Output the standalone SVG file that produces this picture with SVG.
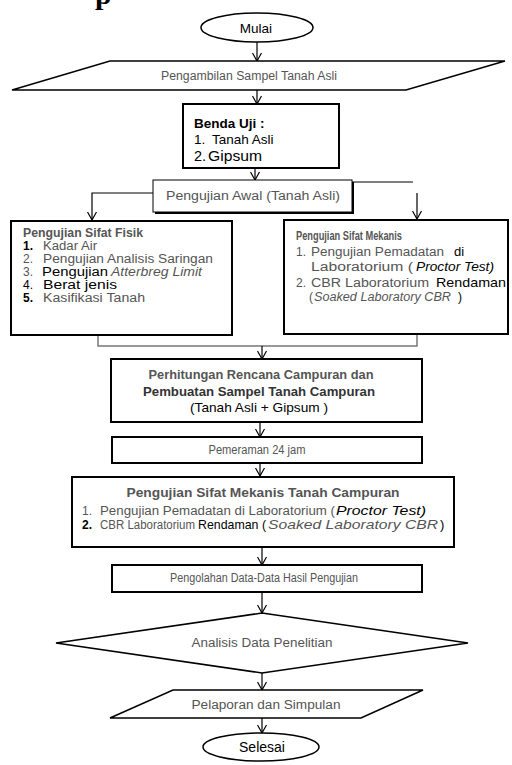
<svg xmlns="http://www.w3.org/2000/svg" width="512" height="765" viewBox="0 0 512 765">
<style>
text{font-family:"Liberation Sans",Arial,sans-serif;font-size:12px;fill:#000}
.g{fill:#555}
.b{font-weight:bold}
.i{font-style:italic}
.m{text-anchor:middle}
.box{fill:#fff;stroke:#000;stroke-width:2}
.thin{fill:#fff;stroke:#000;stroke-width:1.5}
.con{fill:none;stroke:#000;stroke-width:1.2}
.gcon{fill:none;stroke:#777;stroke-width:1.5}
</style>
<defs>
<marker id="ah" viewBox="-1 -5 11 10" refX="9" refY="0" markerWidth="11" markerHeight="10" markerUnits="userSpaceOnUse" orient="auto">
<path d="M1,-4.5 L9,0 L1,4.5" fill="none" stroke="#000" stroke-width="1.2"/>
</marker>
</defs>
<rect width="512" height="765" fill="#fff"/>
<text x="95" y="4" style="font-family:'Liberation Serif',serif;font-size:30px;font-weight:bold">p</text>

<g id="connectors">
<path class="con" d="M257,42 V61" marker-end="url(#ah)"/>
<path class="con" d="M257,90 V104" marker-end="url(#ah)"/>
<path class="con" d="M255,168 V180" marker-end="url(#ah)"/>
<path class="con" d="M153,193 H92 V220" marker-end="url(#ah)"/>
<path class="con" d="M352,182 H413" stroke-width="2"/>
<path class="con" d="M417,193 V219" marker-end="url(#ah)"/>
<path class="gcon" d="M98,335 V346 H417 V335"/>
<path class="con" d="M262,346 V359" marker-end="url(#ah)"/>
<path class="con" d="M260,422 V437" marker-end="url(#ah)"/>
<path class="con" d="M260,463 V476" marker-end="url(#ah)"/>
<path class="con" d="M262,547 V565" marker-end="url(#ah)"/>
<path class="con" d="M262,592 V613" marker-end="url(#ah)"/>
<path class="con" d="M262,673 V690" marker-end="url(#ah)"/>
<path class="con" d="M262,718 V733" marker-end="url(#ah)"/>
</g>

<g id="mulai">
<ellipse cx="257" cy="27.5" rx="56" ry="14.5" class="thin"/>
<text x="256" y="32.5" class="m" style="font-size:13.5px">Mulai</text>
</g>

<g id="pengambilan">
<polygon points="110,61 505,61 406,90 12,90" class="thin"/>
<text x="249" y="79.5" class="m g" textLength="176" lengthAdjust="spacingAndGlyphs">Pengambilan Sampel Tanah Asli</text>
</g>

<g id="benda-uji">
<rect x="183" y="104" width="156" height="64" class="box"/>
<text x="194" y="128" class="b" style="font-size:13.5px">Benda Uji :</text>
<text x="194" y="144" style="font-size:13.5px">1.</text>
<text x="212" y="144" style="font-size:13.5px">Tanah Asli</text>
<text x="194" y="161" style="font-size:14.5px">2.</text>
<text x="208" y="161" style="font-size:14.5px" textLength="54" lengthAdjust="spacingAndGlyphs">Gipsum</text>
</g>

<g id="pengujian-awal">
<rect x="155" y="182" width="199" height="32" fill="#000"/>
<rect x="153" y="180" width="199" height="32" fill="#fff" stroke="#000" stroke-width="1"/>
<text x="253" y="200" class="m g" textLength="174" lengthAdjust="spacingAndGlyphs">Pengujian Awal (Tanah Asli)</text>
</g>

<g id="sifat-fisik">
<rect x="11" y="221" width="221" height="114" class="box"/>
<text x="23" y="237" class="b g" textLength="120" lengthAdjust="spacingAndGlyphs">Pengujian Sifat Fisik</text>
<text x="23" y="250" class="b">1.</text>
<text x="43" y="250" class="g" textLength="54" lengthAdjust="spacingAndGlyphs">Kadar Air</text>
<text x="23" y="263" class="g">2.</text>
<text x="43" y="263" class="g" textLength="170" lengthAdjust="spacingAndGlyphs">Pengujian Analisis Saringan</text>
<text x="23" y="276" class="g">3.</text>
<text x="42" y="276" textLength="66" lengthAdjust="spacingAndGlyphs">Pengujian</text>
<text x="111" y="276" class="g i" textLength="91" lengthAdjust="spacingAndGlyphs">Atterbreg Limit</text>
<text x="23" y="289">4.</text>
<text x="43" y="289" style="font-size:12.5px" textLength="74" lengthAdjust="spacingAndGlyphs">Berat jenis</text>
<text x="23" y="302" class="b">5.</text>
<text x="43" y="302" class="g" textLength="102" lengthAdjust="spacingAndGlyphs">Kasifikasi Tanah</text>
</g>

<g id="sifat-mekanis">
<rect x="284" y="220" width="224" height="114" class="box"/>
<text x="296" y="240" class="b g" textLength="106" lengthAdjust="spacingAndGlyphs">Pengujian Sifat Mekanis</text>
<text x="296" y="256" class="g">1.</text>
<text x="311" y="256" class="g" textLength="133" lengthAdjust="spacingAndGlyphs">Pengujian Pemadatan</text>
<text x="454" y="256" style="font-size:13px">di</text>
<text x="311" y="271" class="g" textLength="102" lengthAdjust="spacingAndGlyphs">Laboratorium (</text>
<text x="416" y="271" class="i" style="font-size:13px" textLength="78" lengthAdjust="spacingAndGlyphs">Proctor Test)</text>
<text x="296" y="287" class="g">2.</text>
<text x="311" y="287" class="g" textLength="118" lengthAdjust="spacingAndGlyphs">CBR Laboratorium</text>
<text x="436" y="287" style="font-size:13.5px" textLength="70" lengthAdjust="spacingAndGlyphs">Rendaman</text>
<text x="309" y="301" class="g">(</text>
<text x="314" y="301" class="g i" textLength="137" lengthAdjust="spacingAndGlyphs">Soaked Laboratory CBR</text>
<text x="458" y="301">)</text>
</g>

<g id="perhitungan">
<rect x="111" y="359" width="311" height="63" class="box"/>
<text x="261" y="379" class="m b g" textLength="225" lengthAdjust="spacingAndGlyphs">Perhitungan Rencana Campuran dan</text>
<text x="259" y="396" class="m b" style="fill:#333" textLength="232" lengthAdjust="spacingAndGlyphs">Pembuatan Sampel Tanah Campuran</text>
<text x="259" y="412" class="m" style="font-size:13px" textLength="138" lengthAdjust="spacingAndGlyphs">(Tanah Asli + Gipsum )</text>
</g>

<g id="pemeraman">
<rect x="112" y="437" width="310" height="26" class="box"/>
<text x="257" y="454" class="m g" textLength="97" lengthAdjust="spacingAndGlyphs">Pemeraman 24 jam</text>
</g>

<g id="tanah-campuran">
<rect x="72" y="477" width="382" height="70" class="box"/>
<text x="263" y="497" class="m b g" textLength="273" lengthAdjust="spacingAndGlyphs">Pengujian Sifat Mekanis Tanah Campuran</text>
<text x="82" y="515" class="g">1.</text>
<text x="100" y="515" class="g" textLength="235" lengthAdjust="spacingAndGlyphs">Pengujian Pemadatan di Laboratorium (</text>
<text x="336" y="515" class="i" style="font-size:13px" textLength="90" lengthAdjust="spacingAndGlyphs">Proctor Test)</text>
<text x="82" y="529" class="b">2.</text>
<text x="100" y="529" class="g" textLength="95" lengthAdjust="spacingAndGlyphs">CBR Laboratorium</text>
<text x="198" y="529" style="font-size:13.5px" textLength="68" lengthAdjust="spacingAndGlyphs">Rendaman (</text>
<text x="268" y="529" class="g i" textLength="170" lengthAdjust="spacingAndGlyphs">Soaked Laboratory CBR</text>
<text x="440" y="529" style="font-size:13px">)</text>
</g>

<g id="pengolahan">
<rect x="112" y="565" width="310" height="27" class="box"/>
<text x="264" y="582" class="m g" textLength="188" lengthAdjust="spacingAndGlyphs">Pengolahan Data-Data Hasil Pengujian</text>
</g>

<g id="analisis">
<polygon points="262,613 468,643 262,673 56,643" class="thin"/>
<text x="262" y="647" class="m g" textLength="141" lengthAdjust="spacingAndGlyphs">Analisis Data Penelitian</text>
</g>

<g id="pelaporan">
<polygon points="173,690 423,690 361,718 110,718" class="thin"/>
<text x="266" y="709" class="m g" textLength="149" lengthAdjust="spacingAndGlyphs">Pelaporan dan Simpulan</text>
</g>

<g id="selesai">
<ellipse cx="261" cy="747" rx="58" ry="14" class="thin"/>
<text x="262" y="752" class="m" style="font-size:14px">Selesai</text>
</g>
</svg>
